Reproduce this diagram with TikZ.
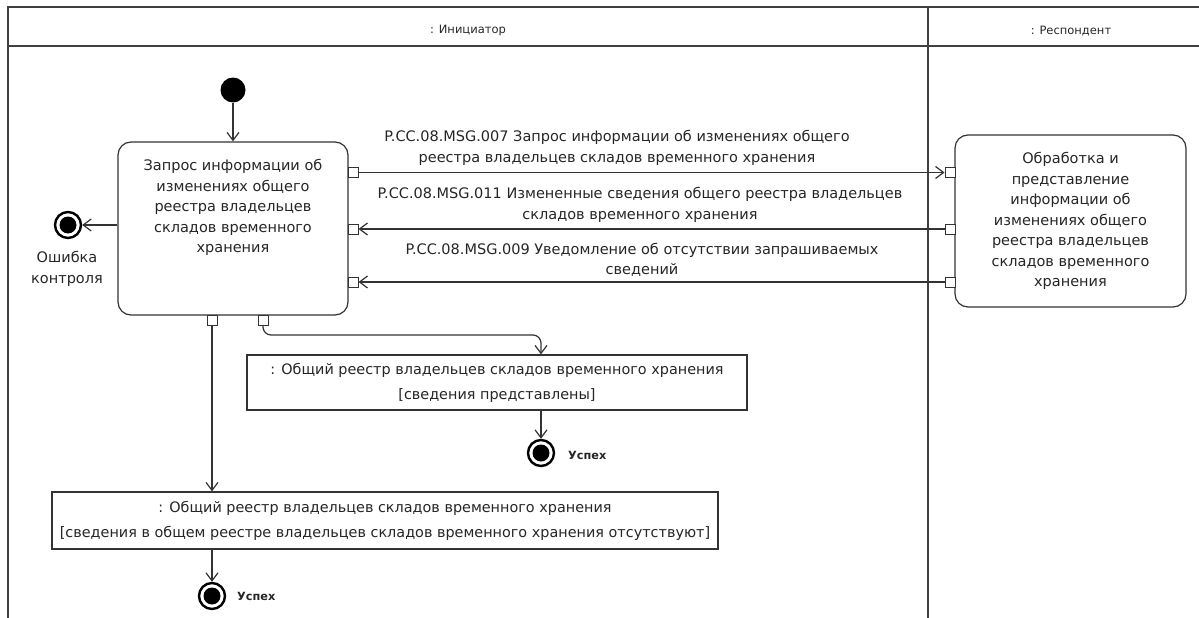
\documentclass[tikz,border=0pt]{standalone}
\usepackage{fontspec}
\setmainfont{DejaVu Sans}
\usetikzlibrary{arrows.meta}
\begin{document}
\begin{tikzpicture}[x=1pt,y=-1pt,
  frameline/.style={draw=black!75,line width=1.5pt},
  ln/.style={draw=black!80,line width=1.2pt},
  flow/.style={ln,-{Straight Barb[length=8pt,width=12pt]}},
  txt/.style={font=\fontsize{14.5}{20.5}\selectfont,align=center,inner sep=0pt,text=black!85},
  hdr/.style={font=\fontsize{11.5}{14}\selectfont,inner sep=0pt,text=black!85},
  succ/.style={font=\bfseries\fontsize{11.3}{14}\selectfont,inner sep=0pt,anchor=west,text=black!85},
  act/.style={ln,rounded corners=13pt,fill=white},
  obj/.style={ln,rectangle,fill=white,align=center,inner sep=0pt,font=\fontsize{14.4}{25}\selectfont,text=black!85},
  pinbox/.style={draw=black!80,line width=1pt,fill=white,minimum size=10pt,inner sep=0pt,rectangle},
  startnode/.style={circle,fill=black,minimum size=25pt,inner sep=0pt},
  endnode/.style={circle,draw=black,fill=white,line width=2.4pt,minimum size=26pt,inner sep=0pt,
    path picture={\fill[black] (path picture bounding box.center) circle (8.5pt);}}
]
\useasboundingbox (0,0) rectangle (1199,618);
% swimlane frame
\draw[frameline] (8,618) -- (8,7) -- (1199,7);
\draw[frameline] (8,46) -- (1199,46);
\draw[frameline] (928,7) -- (928,618);
\node[hdr] (hI) at (468,31) {: Инициатор};
\node[hdr] (hR) at (1071,31) {: Респондент};

% initiator activity
\node[startnode] (start) at (233,90) {};
\node[act,minimum width=230pt,minimum height=173pt] (a1) at (233,228.5) {};
\node[txt] (a1t) at (233,207.5) {Запрос информации об\\изменениях общего\\реестра владельцев\\складов временного\\хранения};
\draw[flow] (start) -- (a1.north);

% respondent activity
\node[act,txt,minimum width=231pt,minimum height=172pt] (a2) at (1070.5,221) {Обработка и\\представление\\информации об\\изменениях общего\\реестра владельцев\\складов временного\\хранения};

% pins
\node[pinbox] (p1) at (353,172.5) {};
\node[pinbox] (p2) at (353,229) {};
\node[pinbox] (p3) at (353,282) {};
\node[pinbox] (q1) at (950,172.5) {};
\node[pinbox] (q2) at (950,229) {};
\node[pinbox] (q3) at (950,282) {};
\node[pinbox] (b1) at (212,320) {};
\node[pinbox] (b2) at (263,320) {};

% messages
\draw[flow] (p1.east) -- (q1.west);
\draw[flow] (q2.west) -- (p2.east);
\draw[flow] (q3.west) -- (p3.east);
\node[txt] (m1) at (617,148) {P.CC.08.MSG.007 Запрос информации об изменениях общего\\реестра владельцев складов временного хранения};
\node[txt] (m2) at (640,205) {P.CC.08.MSG.011 Измененные сведения общего реестра владельцев\\складов временного хранения};
\node[txt] (m3) at (642,260) {P.CC.08.MSG.009 Уведомление об отсутствии запрашиваемых\\сведений};

% error final
\node[endnode] (err) at (68,225) {};
\draw[flow] (a1.west |- err) -- (err.east);
\node[txt] (errt) at (67,269) {Ошибка\\контроля};

% object 1
\node[obj,minimum width=500pt,minimum height=55pt] (o1) at (497,382.5) {: Общий реестр владельцев складов временного хранения\\\relax[сведения представлены]};
\coordinate (c1) at (541,335);
\draw[flow,rounded corners=8pt] (b2.south) |- (c1) -- (o1.north -| c1);
\node[endnode] (f1) at (541,453) {};
\draw[flow] (o1.south -| f1) -- (f1.north);
\node[succ] (s1) at (568,455) {Успех};

% object 2
\node[obj,minimum width=666pt,minimum height=57pt] (o2) at (385,520.5) {: Общий реестр владельцев складов временного хранения\\\relax[сведения в общем реестре владельцев складов временного хранения отсутствуют]};
\draw[flow] (b1.south) -- (o2.north -| b1);
\node[endnode] (f2) at (212,596) {};
\draw[flow] (o2.south -| f2) -- (f2.north);
\node[succ] (s2) at (237,596) {Успех};
\end{tikzpicture}
\end{document}
